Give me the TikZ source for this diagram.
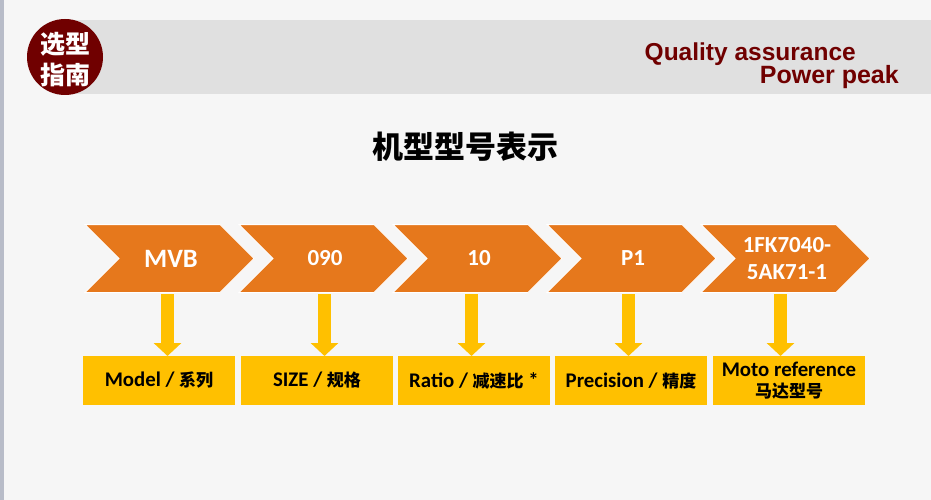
\documentclass[tikz,border=0pt]{standalone}
\usepackage{fontspec}
\usepackage{xcolor}
\usetikzlibrary{arrows.meta,positioning,shapes.symbols}
\setmainfont{Carlito}
\newfontfamily\cjk{Noto Sans CJK SC}
\newfontfamily\headfont{Liberation Sans}
\definecolor{pagegray}{HTML}{F6F6F6}
\definecolor{bandgray}{HTML}{E0E0E0}
\definecolor{edgegray}{HTML}{B8BCC8}
\definecolor{darkred}{HTML}{700000}
\definecolor{chevorange}{HTML}{E6781C}
\definecolor{labelamber}{HTML}{FFC000}
\newcommand{\zh}[1]{{\cjk\fontsize{17}{20}\selectfont #1}}

\begin{document}
\begin{tikzpicture}[
    x=1pt, y=-1pt,
    chev/.style={shape=signal, signal from=west, signal to=east, signal pointer angle=90,
                 fill=chevorange, draw=white, line width=1pt, text=white, align=center,
                 inner sep=0pt, minimum width=169pt, minimum height=68pt,
                 font=\bfseries\fontsize{23}{27}\selectfont},
    tag/.style={fill=labelamber, align=center, inner sep=0pt, outer sep=0pt,
                minimum width=152pt, minimum height=49pt,
                font=\bfseries\fontsize{20.8}{21}\selectfont},
    drop/.style={-{Triangle[width=27pt,length=13pt]}, line width=13pt, draw=labelamber},
    head/.style={text=darkred, inner sep=0pt, font=\headfont\bfseries\fontsize{24.5}{25}\selectfont}
]
\useasboundingbox (0,0) rectangle (931,500);
\fill[pagegray] (0,0) rectangle (931,500);
\fill[edgegray] (0,0) rectangle (4,500);
\fill[bandgray] (65,20) rectangle (931,94);

\node[circle, fill=darkred, minimum size=76pt, inner sep=0pt] (badge) at (65,57) {};
\node[inner sep=0pt, text=white, align=center, font=\cjk\bfseries\fontsize{25}{31}\selectfont]
    (badgetext) at (65,59.5) {选型\\指南};
\node[head, anchor=west] (quality) at (644.5,54) {Quality assurance};
\node[head, anchor=east, font=\headfont\bfseries\fontsize{25}{25}\selectfont] (power) at (899,77.5) {Power peak};
\node[inner sep=0pt, font=\cjk\bfseries\fontsize{31}{31}\selectfont] (title) at (465,146.5) {机型型号表示};

\node[chev, font=\bfseries\fontsize{26.5}{27}\selectfont] (mvb) at (169.5,258.5) {\hspace{3pt}MVB};
\node[chev] (size) at (323.5,258.5) {\hspace{3pt}090};
\node[chev] (ratio) at (477.5,258.5) {\hspace{3pt}10};
\node[chev] (prec) at (631.5,258.5) {\hspace{3pt}P1};
\node[chev] (moto) at (785.5,258.5) {\hspace{3pt}1FK7040-\\\hspace{3pt}5AK71-1};

\node[tag] (tmodel) at (159,380.5) {Model / \zh{系列}};
\node[tag, right=6pt of tmodel] (tsize) {SIZE / \zh{规格}};
\node[tag, right=5pt of tsize] (tratio) {Ratio / \zh{减速比} *};
\node[tag, right=5pt of tratio] (tprec) {Precision / \zh{精度}};
\node[tag, right=6pt of tprec] (tmoto) {Moto reference\\\zh{马达型号}};

\coordinate (d1) at (167.5,294);
\coordinate (d2) at (324.5,294);
\coordinate (d3) at (471.5,294);
\coordinate (d4) at (628.5,294);
\coordinate (d5) at (780.5,294);

\draw[drop] (d1) -- (d1 |- tmodel.north);
\draw[drop] (d2) -- (d2 |- tsize.north);
\draw[drop] (d3) -- (d3 |- tratio.north);
\draw[drop] (d4) -- (d4 |- tprec.north);
\draw[drop] (d5) -- (d5 |- tmoto.north);
\end{tikzpicture}
\end{document}
